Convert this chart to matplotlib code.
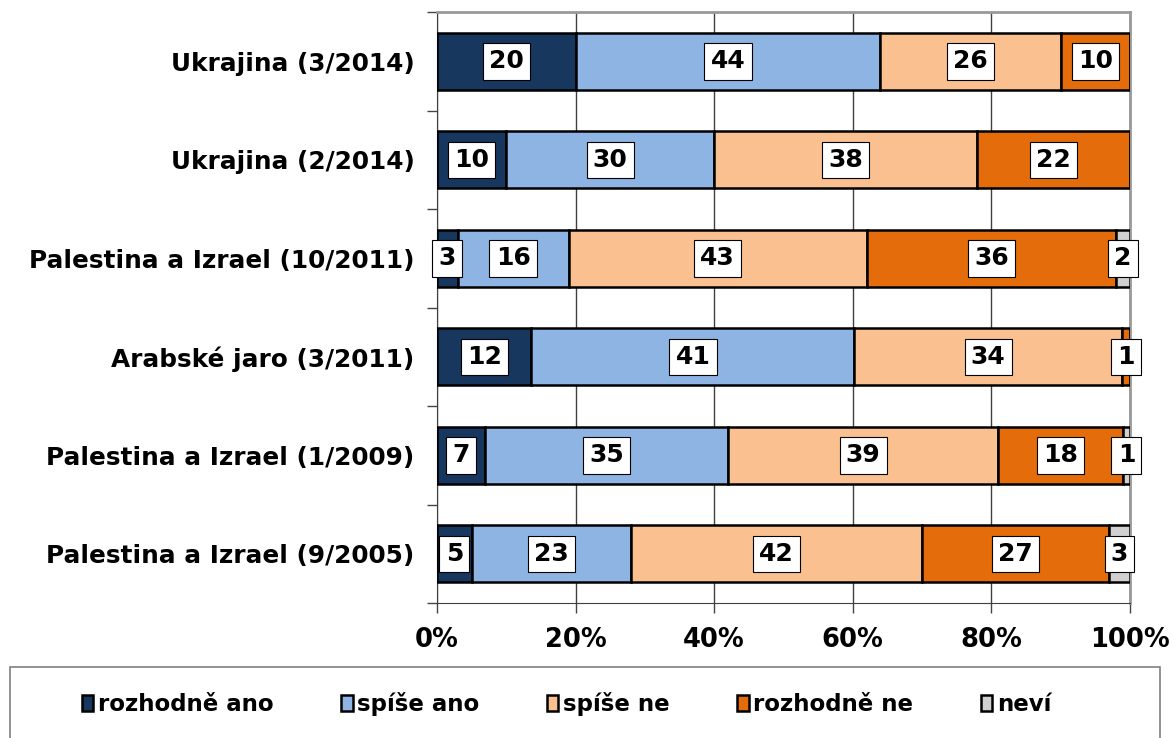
import numpy as np
import matplotlib.pyplot as plt
from matplotlib.patches import Rectangle

plt.rcParams['font.family'] = ['DejaVu Sans']

kategorie = ['Ukrajina (3/2014)', 'Ukrajina (2/2014)', 'Palestina a Izrael (10/2011)',
             'Arabské jaro (3/2011)', 'Palestina a Izrael (1/2009)', 'Palestina a Izrael (9/2005)']
odpovedi = ['rozhodně ano', 'spíše ano', 'spíše ne', 'rozhodně ne', 'neví']
rozhodne_ano = [20, 10, 3, 12, 7, 5]
spise_ano = [44, 30, 16, 41, 35, 23]
spise_ne = [26, 38, 43, 34, 39, 42]
rozhodne_ne = [10, 22, 36, 1, 18, 27]
nevi = [0, 0, 2, 0, 1, 3]
barvy = ['#17375E', '#8EB4E3', '#FAC090', '#E46C0A', '#D0D0D0']

data = np.array([rozhodne_ano, spise_ano, spise_ne, rozhodne_ne, nevi], dtype=float)
# procenta v radku (Arabske jaro neda dohromady 100)
podily = data / data.sum(axis=0) * 100

fig = plt.figure(figsize=(11.73, 7.38), dpi=100)
ax = fig.add_axes([0.3725, 0.1829, 0.5908, 0.8008])

y = np.arange(len(kategorie))
vlevo = np.zeros(len(kategorie))
for i, nazev in enumerate(odpovedi):
    ax.barh(y, podily[i], left=vlevo, height=0.58, color=barvy[i],
            edgecolor='black', linewidth=1.8, label=nazev, zorder=3)
    for j in range(len(kategorie)):
        if data[i, j] > 0:
            ax.text(vlevo[j] + podily[i, j] / 2, y[j], '%d' % data[i, j],
                    ha='center', va='center', fontsize=18, fontweight='bold', zorder=5,
                    bbox=dict(boxstyle='square,pad=0.25', fc='white', ec='black', lw=0.8))
    vlevo += podily[i]

ax.set_xlim(0, 100)
ax.set_ylim(len(kategorie) - 0.5, -0.5)
ax.set_xticks(np.arange(0, 101, 20))
ax.set_xticklabels(['%d%%' % v for v in range(0, 101, 20)], fontsize=18.5, fontweight='bold')
ax.set_yticks(y)
ax.set_yticklabels(kategorie, fontsize=17.8, fontweight='bold')
ax.tick_params(axis='y', which='major', length=0, pad=16)
ax.set_yticks(np.arange(-0.5, len(kategorie), 1), minor=True)
ax.tick_params(axis='y', which='minor', length=7, width=1, color='#444444')
ax.tick_params(axis='x', length=7, width=1, color='#444444', pad=10)
ax.grid(axis='x', color='#404040', linewidth=1, zorder=0)
ax.spines['top'].set_color('#999999')
ax.spines['right'].set_color('#999999')
ax.spines['top'].set_linewidth(2)
ax.spines['right'].set_linewidth(2)
ax.spines['left'].set_color('#404040')
ax.spines['bottom'].set_color('#404040')

# ramecek legendy (spodek je oriznuty)
fig.patches.append(Rectangle((10 / 1173, -0.05), 1150 / 1173, 0.05 + 71 / 738,
                             transform=fig.transFigure, fill=False, ec='#808080', lw=1.2))
handles, labels = ax.get_legend_handles_labels()
fig.legend(handles, labels, loc='center', bbox_to_anchor=(0.483, 0.046), ncol=5,
           frameon=False, prop={'weight': 'bold', 'size': 16.5},
           handlelength=0.5, handleheight=0.75, handletextpad=0.2, columnspacing=2.95)

fig.savefig('out.png', dpi=100)
